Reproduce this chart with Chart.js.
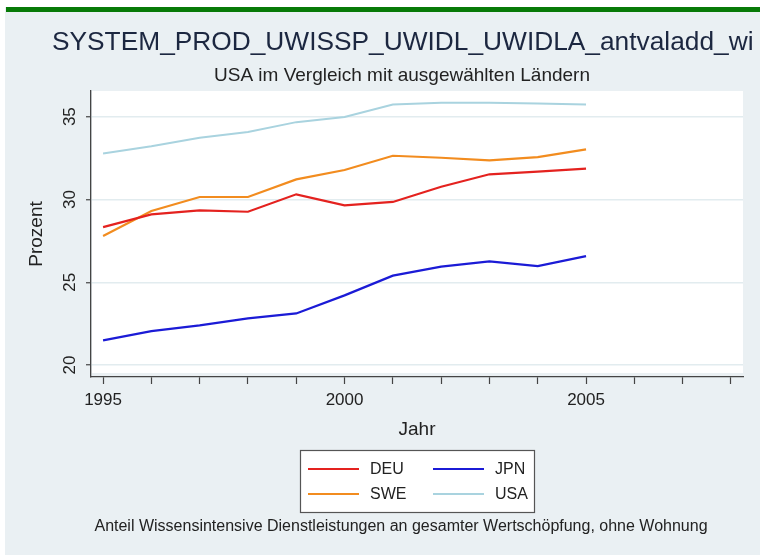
<!DOCTYPE html>
<html>
<head>
<meta charset="utf-8">
<script src="https://cdn.jsdelivr.net/npm/chart.js@4/dist/chart.umd.min.js"></script>
<style>
  html, body { margin: 0; padding: 0; background: #fff; }
  #wrap { width: 760px; height: 558px; position: relative; }
</style>
</head>
<body>
<div id="wrap"><canvas id="chart" width="760" height="558"></canvas></div>
<script>
// years and shares (percent) per country
const years = [1995, 1996, 1997, 1998, 1999, 2000, 2001, 2002, 2003, 2004, 2005];
const deu = [28.33, 29.10, 29.34, 29.26, 30.31, 29.64, 29.85, 30.77, 31.52, 31.68, 31.86];
const jpn = [21.49, 22.05, 22.40, 22.82, 23.12, 24.21, 25.40, 25.94, 26.26, 25.98, 26.58];
const swe = [27.79, 29.30, 30.15, 30.15, 31.21, 31.78, 32.64, 32.52, 32.36, 32.56, 33.02];
const usa = [32.78, 33.22, 33.73, 34.07, 34.67, 34.98, 35.74, 35.84, 35.84, 35.80, 35.74];

const xTicks = [1995, 1996, 1997, 1998, 1999, 2000, 2001, 2002, 2003, 2004, 2005, 2006, 2007, 2008];
const yTicks = [20, 25, 30, 35];

const titleText = 'SYSTEM_PROD_UWISSP_UWIDL_UWIDLA_antvaladd_wi';
const subtitleText = 'USA im Vergleich mit ausgewählten Ländern';
const noteText = 'Anteil Wissensintensive Dienstleistungen an gesamter Wertschöpfung, ohne Wohnung';

const FONT = '"Liberation Sans", Arial, sans-serif';
const INK = '#222';

function series(label, values, color, width) {
  return {
    label: label,
    data: years.map((y, i) => ({ x: y, y: values[i] })),
    borderColor: color,
    backgroundColor: color,
    borderWidth: width,
    pointRadius: 0,
    tension: 0,
    fill: false
  };
}

// page frame, green strip, white plot region
const framePlugin = {
  id: 'frame',
  beforeDraw(chart) {
    const ctx = chart.ctx;
    const a = chart.chartArea;
    ctx.save();
    ctx.fillStyle = '#ffffff';
    ctx.fillRect(0, 0, 760, 558);
    ctx.fillStyle = '#eaf0f3';
    ctx.fillRect(5, 7, 755, 548);
    ctx.fillStyle = '#077a07';
    ctx.fillRect(6, 7, 754, 5);
    ctx.fillStyle = '#ffffff';
    ctx.fillRect(a.left + 1, a.top, a.right - a.left - 1, a.bottom - a.top - 4);
    ctx.restore();
  }
};

// titles, rotated y labels, boxed legend, note
const textPlugin = {
  id: 'texts',
  afterDraw(chart) {
    const ctx = chart.ctx;
    const a = chart.chartArea;
    const ys = chart.scales.y;
    ctx.save();

    ctx.fillStyle = '#1c2740';
    ctx.textBaseline = 'alphabetic';
    ctx.textAlign = 'left';
    ctx.font = '26.3px ' + FONT;
    ctx.fillText(titleText, 52, 50);

    ctx.fillStyle = INK;
    ctx.textAlign = 'center';
    ctx.font = '19px ' + FONT;
    ctx.fillText(subtitleText, 402, 81);

    // y tick labels, read bottom to top
    ctx.font = '17px ' + FONT;
    ctx.textBaseline = 'middle';
    ys.ticks.forEach(t => {
      const py = ys.getPixelForValue(t.value);
      ctx.save();
      ctx.translate(70, py);
      ctx.rotate(-Math.PI / 2);
      ctx.fillText(String(t.value), 0, 0);
      ctx.restore();
    });

    // legend box
    const cx = (a.left + a.right) / 2;
    const bw = 234, bh = 62;
    const bx = Math.round(cx - bw / 2), by = 450;
    ctx.fillStyle = '#ffffff';
    ctx.fillRect(bx, by, bw, bh);
    ctx.strokeStyle = '#555';
    ctx.lineWidth = 1.2;
    ctx.strokeRect(bx + 0.5, by + 0.5, bw, bh);
    ctx.font = '16px ' + FONT;
    ctx.textAlign = 'left';
    ctx.textBaseline = 'middle';
    chart.data.datasets.forEach((ds, i) => {
      const col = i % 2, row = Math.floor(i / 2);
      const lx = bx + 8 + col * 125;
      const ly = by + 19 + row * 25;
      ctx.strokeStyle = ds.borderColor;
      ctx.lineWidth = 2.2;
      ctx.beginPath();
      ctx.moveTo(lx, ly);
      ctx.lineTo(lx + 51, ly);
      ctx.stroke();
      ctx.fillStyle = INK;
      ctx.fillText(ds.label, lx + 62, ly + 1);
    });

    ctx.textAlign = 'center';
    ctx.textBaseline = 'alphabetic';
    ctx.font = '16px ' + FONT;
    ctx.fillText(noteText, 401, 531);
    ctx.restore();
  }
};

const ctx = document.getElementById('chart').getContext('2d');
new Chart(ctx, {
  type: 'line',
  data: {
    datasets: [
      series('DEU', deu, '#e4221f', 2.2),
      series('JPN', jpn, '#1b1bd6', 2.2),
      series('SWE', swe, '#f28c1f', 2.2),
      series('USA', usa, '#a9d3df', 2.0)
    ]
  },
  options: {
    responsive: false,
    animation: false,
    layout: { padding: { top: 91, bottom: 117, left: 0, right: 17 } },
    plugins: {
      legend: { display: false },
      tooltip: { enabled: false }
    },
    scales: {
      x: {
        type: 'linear',
        min: 1994.75,
        max: 2008.25,
        afterBuildTicks: s => { s.ticks = xTicks.map(v => ({ value: v })); },
        afterFit: s => { s.height = 64; },
        grid: { drawOnChartArea: false, drawTicks: true, tickLength: 7, tickColor: '#444', tickWidth: 1.2 },
        border: { display: true, color: '#444', width: 1.3 },
        ticks: {
          autoSkip: false,
          maxRotation: 0,
          padding: 6,
          color: INK,
          font: { family: FONT, size: 17 },
          callback: v => (v % 5 === 0 ? String(v) : '')
        },
        title: { display: true, text: 'Jahr', color: INK, font: { family: FONT, size: 19 }, padding: { top: 0, bottom: 0 } }
      },
      y: {
        min: 19.28,
        max: 36.55,
        afterBuildTicks: s => { s.ticks = yTicks.map(v => ({ value: v })); },
        afterFit: s => { s.width = 91; },
        grid: { color: '#e2ecef', lineWidth: 1.5, drawTicks: true, tickLength: 5, tickColor: '#444', tickWidth: 1.2 },
        border: { display: true, color: '#444', width: 1.3 },
        ticks: { display: false },
        title: { display: true, text: 'Prozent', color: INK, font: { family: FONT, size: 19 }, padding: { top: 25, bottom: 0 } }
      }
    }
  },
  plugins: [framePlugin, textPlugin]
});
</script>
</body>
</html>
